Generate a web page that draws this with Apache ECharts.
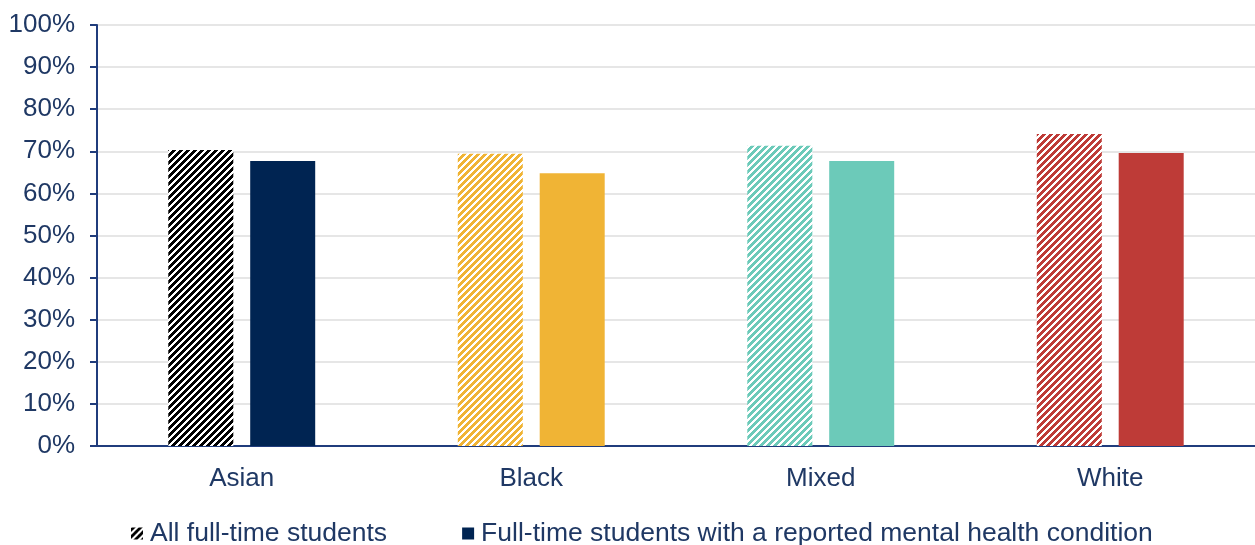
<!DOCTYPE html>
<html><head><meta charset="utf-8">
<script src="https://cdn.jsdelivr.net/npm/echarts@6/dist/echarts.min.js"></script>
<style>html,body{margin:0;padding:0;background:#fff}#c{width:1255px;height:545px}</style>
</head><body><div id="c"></div>
<script>
const categories = ['Asian', 'Black', 'Mixed', 'White'];
const seriesNames = ['All full-time students', 'Full-time students with a reported mental health condition'];
const allStudents = [70.3, 69.4, 71.3, 74.1];
const mentalHealth = [67.7, 64.8, 67.7, 69.6];
const catColors = ['#002452', '#F0B435', '#6CCAB9', '#BE3B37'];
const hatchColors = ['#000000', '#F0B435', '#6CCAB9', '#BE3B37'];
const yTicks = [0, 10, 20, 30, 40, 50, 60, 70, 80, 90, 100];

function hatch(color) {
  const n = 7;
  const cv = document.createElement('canvas');
  cv.width = n; cv.height = n;
  const ctx = cv.getContext('2d');
  ctx.fillStyle = '#fff';
  ctx.fillRect(0, 0, n, n);
  ctx.fillStyle = color;
  for (let x = 0; x < n; x++) for (let y = 0; y < n; y++) {
    if (((x + y) % n) < 4) ctx.fillRect(x, y, 1, 1);
  }
  return { image: cv, repeat: 'repeat' };
}

const textColor = '#1F3864';
const axisColor = '#203C7C';
const font = 'Liberation Sans, Arial, sans-serif';
const chart = echarts.init(document.getElementById('c'));
chart.setOption({
  animation: false,
  grid: { left: 97, right: 0, top: 25, bottom: 99 },
  legend: {
    top: 515, left: 126,
    itemWidth: 12, itemHeight: 12, itemGap: 75,
    icon: 'rect',
    textStyle: { fontFamily: font, fontSize: 26.5, color: textColor, padding: [0, 0, 0, 2] },
    data: seriesNames
  },
  xAxis: {
    type: 'category', data: categories,
    axisLine: { lineStyle: { color: axisColor, width: 2 } },
    axisTick: { show: false },
    axisLabel: { fontFamily: font, fontSize: 26, margin: 20, color: textColor }
  },
  yAxis: {
    type: 'value', min: 0, max: 100, interval: 10,
    axisLine: { show: true, lineStyle: { color: axisColor, width: 2 } },
    axisTick: { show: true, length: 7, lineStyle: { color: axisColor, width: 2 } },
    splitLine: { lineStyle: { color: '#E6E6E6', width: 2 } },
    axisLabel: { fontFamily: font, fontSize: 26, color: textColor, margin: 22,
      formatter: v => yTicks.includes(v) ? v + '%' : '' }
  },
  series: [
    {
      name: seriesNames[0], type: 'bar', barWidth: 65, barGap: '26%',
      itemStyle: { color: hatch('#000000') },
      data: allStudents.map((v, i) => ({ value: v, itemStyle: { color: hatch(hatchColors[i]) } }))
    },
    {
      name: seriesNames[1], type: 'bar', barWidth: 65, barGap: '26%',
      itemStyle: { color: '#002452' },
      data: mentalHealth.map((v, i) => ({ value: v, itemStyle: { color: catColors[i] } }))
    }
  ]
});
</script></body></html>
